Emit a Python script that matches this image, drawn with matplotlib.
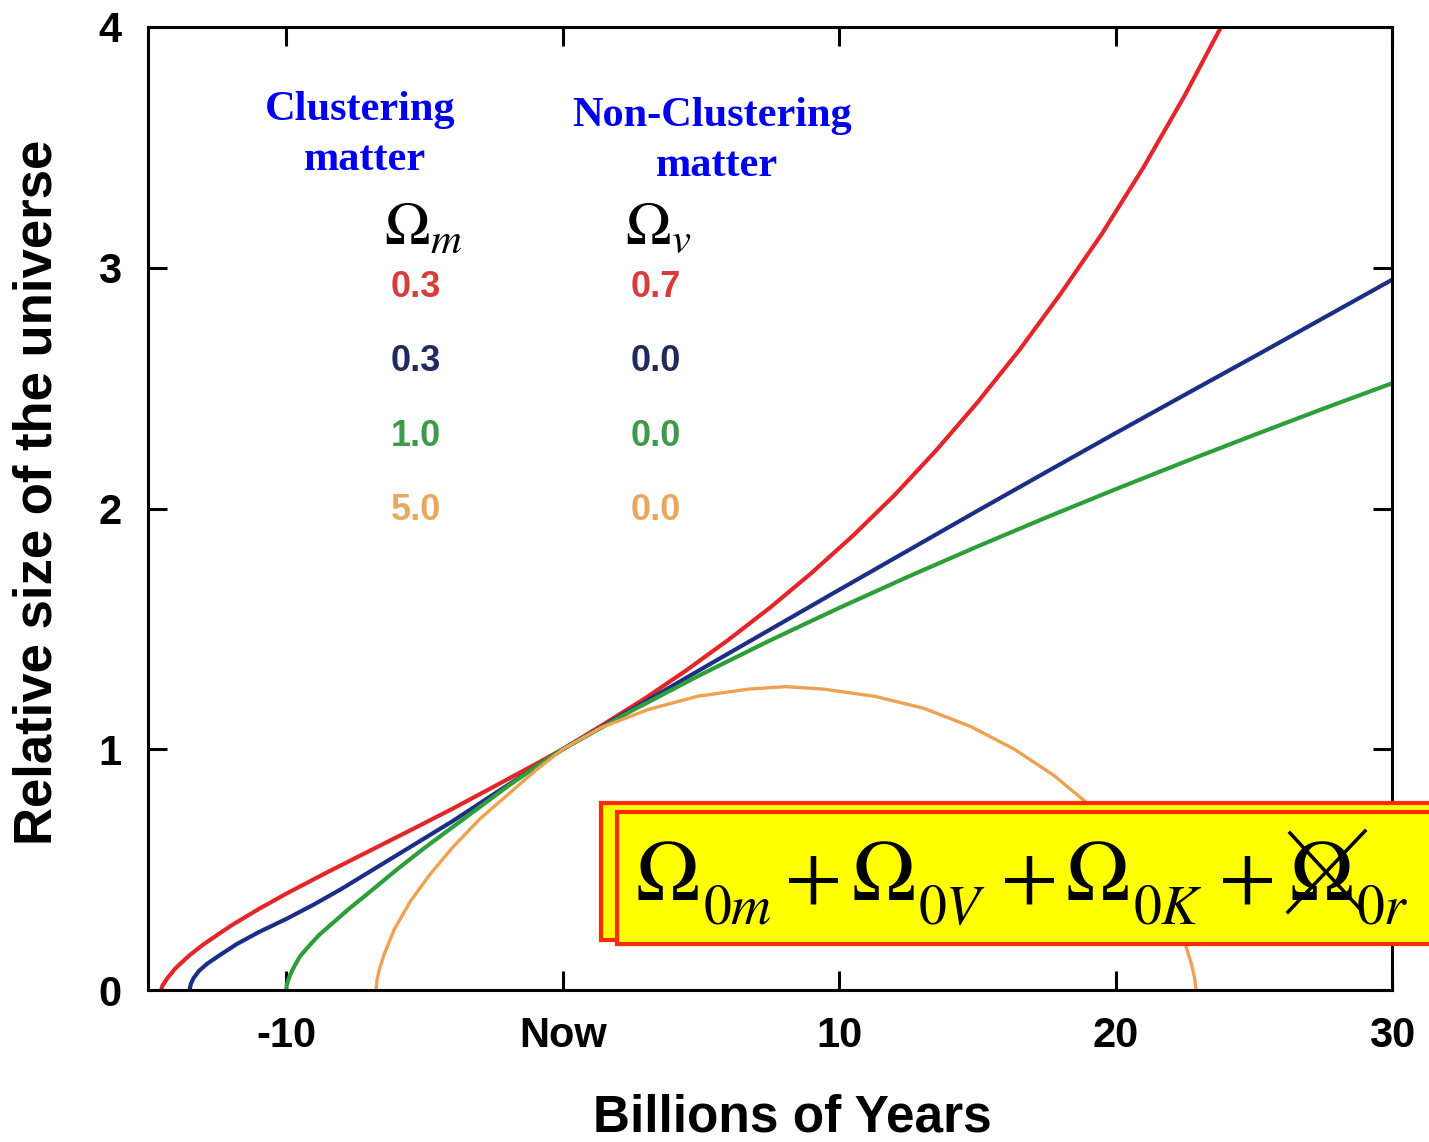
import matplotlib
matplotlib.use("Agg")
import matplotlib.pyplot as plt
from matplotlib.font_manager import FontProperties
from matplotlib.patches import Rectangle
from matplotlib.lines import Line2D

# (time in Gyr relative to now, relative size)
red_t = [-14.52, -14.48, -14.4, -14.3, -14.0, -13.5, -13.0, -12.0, -11.0, -10, -8.5, -7, -5.5,
         -4, -2.5, -1, 0, 1.5, 3, 4.5, 6, 7.5, 9, 10.5, 12, 13.5, 15, 16.5, 18, 19.5, 21,
         22.5, 24]
red_a = [0.0, 0.018, 0.031, 0.049, 0.091, 0.144, 0.189, 0.267, 0.336, 0.40, 0.49, 0.577, 0.664,
         0.752, 0.844, 0.937, 1.0, 1.105, 1.213, 1.33, 1.455, 1.588, 1.732, 1.887, 2.055, 2.24,
         2.44, 2.655, 2.89, 3.14, 3.415, 3.715, 4.04]

blue_t = [-13.5, -13.45, -13.35, -13.15, -12.85, -12.4, -11.8, -11.0, -10, -9, -8, -7, -6, -5,
          -4, -3, -2, -1, 0, 2.5, 5, 7.5, 10, 12.5, 15, 17.5, 20, 22.5, 25, 27.5, 30]
blue_a = [0.0, 0.025, 0.05, 0.08, 0.11, 0.145, 0.19, 0.24, 0.295, 0.355, 0.42, 0.49, 0.56, 0.63,
          0.70, 0.775, 0.85, 0.925, 1.0, 1.165, 1.332, 1.497, 1.662, 1.826, 1.99, 2.152, 2.313,
          2.472, 2.63, 2.79, 2.95]

green_t = [-10.0, -9.98, -9.93, -9.85, -9.7, -9.5, -9.2, -8.8, -8.3, -7.7, -7.0, -6.0, -5.0,
           -4.0, -3.0, -2.0, -1.0, 0, 2.5, 5, 7.5, 10, 12.5, 15, 17.5, 20, 22.5, 25, 27.5, 30]
green_a = [0.0, 0.02, 0.04, 0.065, 0.10, 0.14, 0.18, 0.23, 0.28, 0.34, 0.405, 0.50, 0.59, 0.675,
           0.76, 0.845, 0.925, 1.0, 1.16, 1.31, 1.452, 1.587, 1.717, 1.842, 1.963, 2.08, 2.194,
           2.305, 2.414, 2.52]

orange_t = [-6.75, -6.72, -6.62, -6.45, -6.1, -5.5, -4.8, -4.0, -3.0, -2.0, -1.0, 0, 1.39, 3.09,
            4.88, 6.74, 8.08, 9.42, 11.28, 13.07, 14.77, 16.34, 17.76, 19.01, 20.08, 20.95,
            21.65, 22.16, 22.52, 22.74, 22.86, 22.90, 22.91]
orange_a = [0.0, 0.04, 0.09, 0.15, 0.25, 0.37, 0.48, 0.59, 0.71, 0.81, 0.91, 1.0, 1.09, 1.165,
            1.22, 1.25, 1.26, 1.25, 1.22, 1.17, 1.094, 1.0, 0.892, 0.773, 0.648, 0.523, 0.402,
            0.29, 0.191, 0.11, 0.05, 0.013, 0.0]

x_ticks = [-10, 0, 10, 20, 30]
x_tick_labels = ["-10", "Now", "10", "20", "30"]
y_ticks = [0, 1, 2, 3, 4]

omega_m_vals = ["0.3", "0.3", "1.0", "5.0"]
omega_v_vals = ["0.7", "0.0", "0.0", "0.0"]

line_colors = ["#e3262a", "#1c2f86", "#2e9e3a", "#eea150"]
text_colors = ["#d83c3c", "#1f2b5e", "#3d9a4a", "#e8a860"]

W, H = 1429, 1142


def fx(px):
    return px / W


def fy(py):
    return 1 - py / H


def main():
    fig = plt.figure(figsize=(W / 100, H / 100), dpi=100)
    ax = fig.add_axes([fx(148), fy(990), (1392 - 148) / W, (990 - 27) / H])

    ax.plot(red_t, red_a, color=line_colors[0], lw=3)
    ax.plot(blue_t, blue_a, color=line_colors[1], lw=3)
    ax.plot(green_t, green_a, color=line_colors[2], lw=3)
    ax.plot(orange_t, orange_a, color=line_colors[3], lw=2.4)

    ax.set_xlim(-15, 30)
    ax.set_ylim(0, 4)
    ax.set_xticks(x_ticks)
    ax.set_xticklabels(x_tick_labels)
    ax.set_yticks(y_ticks)
    sans = ["Liberation Sans", "DejaVu Sans"]
    tick_fp = FontProperties(family=sans, weight="bold", size=30)
    for lab in ax.get_xticklabels() + ax.get_yticklabels():
        lab.set_fontproperties(tick_fp)
    ax.tick_params(direction="in", top=True, right=True, length=14, width=2.2, pad=19)
    for sp in ax.spines.values():
        sp.set_linewidth(2.2)

    # axis titles
    fig.text(fx(792), fy(1118), "Billions of Years", family=sans, weight="bold",
             size=37, ha="center", va="center")
    fig.text(fx(38), fy(492), "Relative size of the universe", family=sans,
             weight="bold", size=38, ha="center", va="center", rotation=90)

    # column headers
    serif = ["Liberation Serif", "DejaVu Serif"]
    head = dict(family=serif, weight="bold", size=30.5, color="#0000ee",
                ha="center", va="center")
    fig.text(fx(360), fy(110), "Clustering", **head)
    fig.text(fx(365), fy(160), "matter", **head)
    fig.text(fx(712), fy(116), "Non-Clustering", **head)
    fig.text(fx(717), fy(166), "matter", **head)

    fig.text(fx(384), fy(245), r"$\Omega_m$", size=44, math_fontfamily="stix",
             ha="left", va="baseline")
    fig.text(fx(625), fy(245), r"$\Omega_v$", size=44, math_fontfamily="stix",
             ha="left", va="baseline")

    rows_y = [287, 361, 436, 510]
    for i in range(4):
        fig.text(fx(416), fy(rows_y[i]), omega_m_vals[i], family=sans, weight="bold",
                 size=26, color=text_colors[i], ha="center", va="center")
        fig.text(fx(656), fy(rows_y[i]), omega_v_vals[i], family=sans, weight="bold",
                 size=26, color=text_colors[i], ha="center", va="center")

    # yellow formula box (two offset frames, running past the right edge)
    box_red = "#ff2a00"
    fig.patches.append(Rectangle((fx(601), fy(940)), fx(1445 - 601), (940 - 803) / H,
                                 transform=fig.transFigure, facecolor="#ffff00",
                                 edgecolor=box_red, lw=3, zorder=5))
    fig.patches.append(Rectangle((fx(617), fy(944)), fx(1445 - 617), (944 - 812) / H,
                                 transform=fig.transFigure, facecolor="#ffff00",
                                 edgecolor=box_red, lw=3, zorder=6))

    subs = [r"$0m$", r"$0V$", r"$0K$", r"$0r$"]
    omega_x = [635, 851, 1065, 1289]
    sub_x = [703, 918, 1133, 1356]
    plus_x = [812, 1027, 1245]
    for ox, sx, sub in zip(omega_x, sub_x, subs):
        fig.text(fx(ox), fy(900), r"$\Omega$", size=62, math_fontfamily="stix",
                 ha="left", va="baseline", zorder=7)
        fig.text(fx(sx), fy(924), sub, size=40, math_fontfamily="stix",
                 ha="left", va="baseline", zorder=7)
    for px in plus_x:
        fig.text(fx(px), fy(900), r"$+$", size=60, math_fontfamily="stix",
                 ha="center", va="baseline", zorder=7)

    # cross over the radiation term
    fig.lines.append(Line2D([fx(1290), fx(1362)], [fy(833), fy(911)],
                            transform=fig.transFigure, color="black", lw=2.5, zorder=8))
    fig.lines.append(Line2D([fx(1288), fx(1365)], [fy(912), fy(831)],
                            transform=fig.transFigure, color="black", lw=2.5, zorder=8))

    fig.savefig("out.png", dpi=100)


if __name__ == "__main__":
    main()
